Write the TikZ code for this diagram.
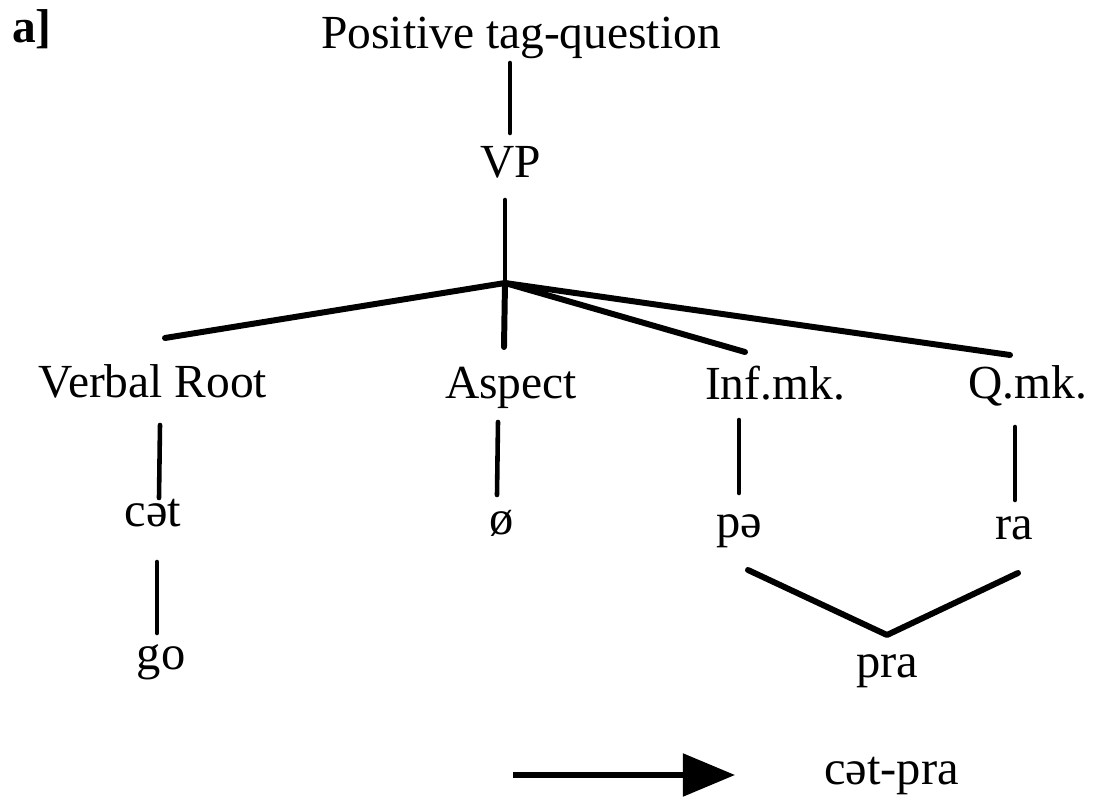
\documentclass[tikz,border=0pt]{standalone}
\usepackage{fontspec}
\setmainfont{Liberation Serif}
\usetikzlibrary{arrows.meta}
\begin{document}
\begin{tikzpicture}[x=0.01cm,y=-0.01cm,
  lbl/.style={inner sep=0pt, outer sep=0pt, anchor=base, font=\fontsize{13.5}{16}\selectfont},
  wd/.style={lbl, font=\fontsize{13.8}{16}\selectfont},
  edge/.style={line width=1.3pt, line cap=round},
  fan/.style={line width=1.7pt, line cap=round, line join=round},
  arr/.style={line width=1.5pt, -{Triangle[length=0.52cm,width=0.42cm]}}]
\useasboundingbox (0,0) rectangle (1102,806);
% labels
\node[lbl, font=\fontsize{13.5}{16}\selectfont\bfseries, anchor=base west] (lab) at (12,42) {a]};
\node[lbl] (ptq) at (521,48) {Positive tag-question};
\node[lbl] (vp) at (511,177) {VP};
\node[lbl] (vr) at (153,397) {Verbal Root};
\node[lbl] (asp) at (511,398) {Aspect};
\node[lbl] (inf) at (775,399) {Inf.mk.};
\node[lbl] (qmk) at (1028,398) {Q.mk.};
\node[wd] (cet) at (153,526) {cət};
\node[wd] (zero) at (502,534) {ø};
\node[wd] (pe) at (739,537) {pə};
\node[wd] (ra) at (1014,539) {ra};
\node[wd] (go) at (161,669) {go};
\node[wd] (pra) at (887,677) {pra};
\node[wd, anchor=base west] (res) at (824,784) {cət-pra};
% connector end points
\coordinate (ptqB) at (510,63);
\coordinate (vpT) at (510,133);
\coordinate (vpB) at (505,200);
\coordinate (j) at (505,283);
\coordinate (vrT) at (165,338);
\coordinate (aspT) at (504,347);
\coordinate (infT) at (745,352);
\coordinate (qmkT) at (1010,355);
\coordinate (vrB) at (160,425);
\coordinate (cetT) at (159,498);
\coordinate (aspB) at (498,422);
\coordinate (zeroT) at (497,495);
\coordinate (infB) at (739,420);
\coordinate (peT) at (739,493);
\coordinate (qmkB) at (1015,427);
\coordinate (raT) at (1015,500);
\coordinate (cetB) at (157,562);
\coordinate (goT) at (157,633);
\coordinate (peB) at (748,570);
\coordinate (praT) at (887,635);
\coordinate (raB) at (1018,573);
\coordinate (arS) at (513,775);
\coordinate (arE) at (735,775);
% connectors
\draw[edge] (ptqB) -- (vpT);
\draw[edge] (vpB) -- (j);
\draw[fan] (j) -- (vrT);
\draw[fan] (j) -- (aspT);
\draw[fan] (j) -- (infT);
\draw[fan] (j) -- (qmkT);
\draw[edge] (vrB) -- (cetT);
\draw[edge] (aspB) -- (zeroT);
\draw[edge] (infB) -- (peT);
\draw[edge] (qmkB) -- (raT);
\draw[edge] (cetB) -- (goT);
\draw[fan] (peB) -- (praT) -- (raB);
\draw[arr] (arS) -- (arE);
\end{tikzpicture}
\end{document}
